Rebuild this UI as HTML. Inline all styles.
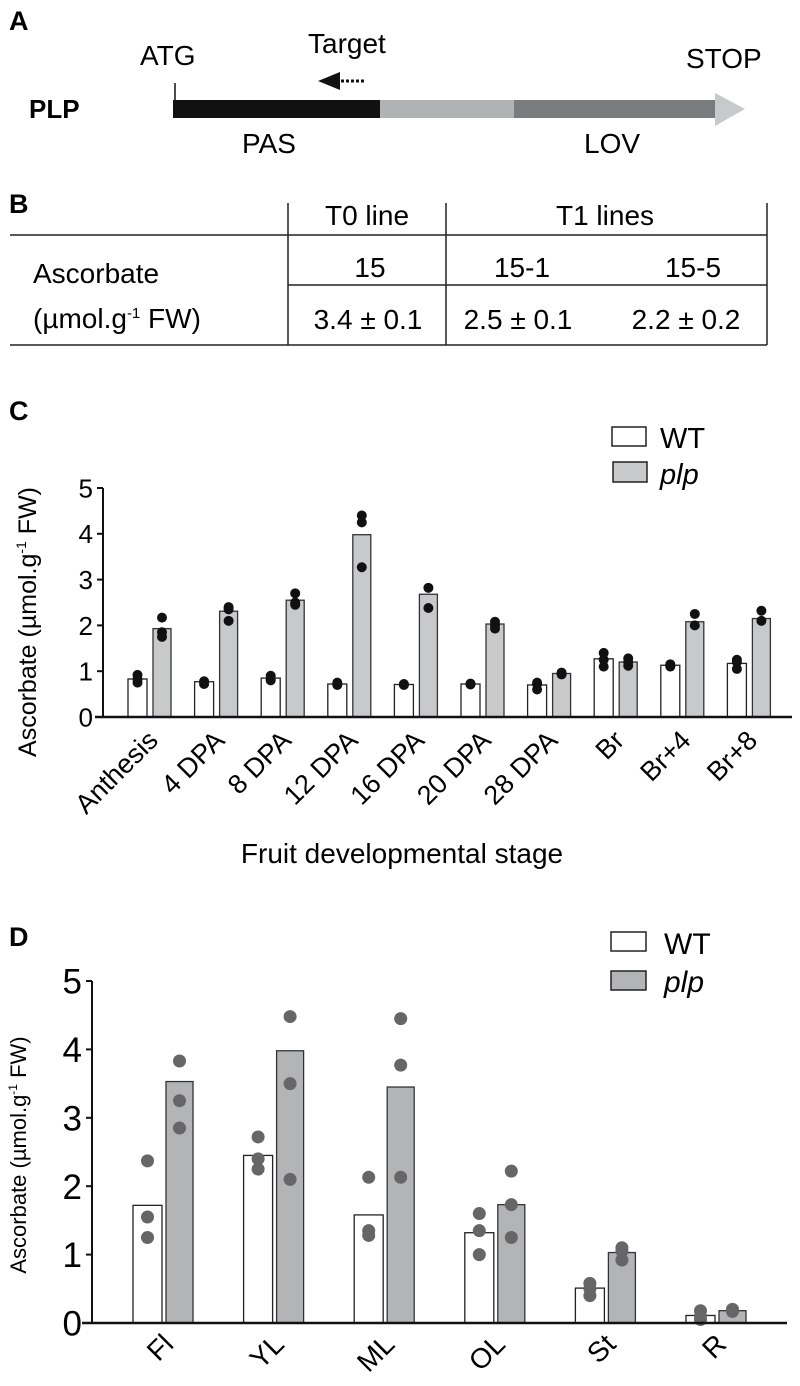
<!DOCTYPE html>
<html><head><meta charset="utf-8">
<style>
html,body{margin:0;padding:0;background:#fff;}
svg{display:block;font-family:"Liberation Sans",sans-serif;}
</style></head>
<body>
<svg id="fig" width="800" height="1386" viewBox="0 0 800 1386">
<!-- Panel A -->
<g>
  <text x="9" y="30" font-size="27" font-weight="bold">A</text>
  <text x="29" y="118" font-size="26" font-weight="bold">PLP</text>
  <text x="140" y="65" font-size="28">ATG</text>
  <text x="308" y="53" font-size="28">Target</text>
  <text x="686" y="68" font-size="28">STOP</text>
  <line x1="175" y1="83" x2="175" y2="118" stroke="#111" stroke-width="1.5"/>
  <rect x="173" y="100" width="208" height="18" fill="#111"/>
  <rect x="380" y="100" width="134" height="18" fill="#b1b2b4"/>
  <rect x="514" y="100" width="202" height="18" fill="#7a7b7d"/>
  <polygon points="715,93 745,109 715,126" fill="#c8c9ca"/>
  <polygon points="318,81 340,72 340,90" fill="#111"/>
  <line x1="341" y1="81" x2="364" y2="81" stroke="#111" stroke-width="3" stroke-dasharray="3,2"/>
  <text x="242" y="153" font-size="28">PAS</text>
  <text x="584" y="153" font-size="28">LOV</text>
</g>
<!-- Panel B -->
<g font-size="28">
  <text x="9" y="213" font-weight="bold" font-size="27">B</text>
  <line x1="288" y1="203" x2="288" y2="345" stroke="#222" stroke-width="1.5"/>
  <line x1="446" y1="203" x2="446" y2="345" stroke="#222" stroke-width="1.5"/>
  <line x1="767" y1="203" x2="767" y2="345" stroke="#222" stroke-width="1.5"/>
  <line x1="10" y1="235" x2="767" y2="235" stroke="#222" stroke-width="1.5"/>
  <line x1="288" y1="285" x2="767" y2="285" stroke="#222" stroke-width="1.5"/>
  <line x1="10" y1="345" x2="767" y2="345" stroke="#222" stroke-width="1.5"/>
  <text x="367" y="225" text-anchor="middle">T0 line</text>
  <text x="605" y="225" text-anchor="middle">T1 lines</text>
  <text x="370" y="277" text-anchor="middle">15</text>
  <text x="522" y="277" text-anchor="middle">15-1</text>
  <text x="693" y="277" text-anchor="middle">15-5</text>
  <text x="33" y="283">Ascorbate</text>
  <text x="33" y="328">(µmol.g<tspan font-size="15" dy="-10">-1</tspan><tspan dy="10"> FW)</tspan></text>
  <text x="368" y="329" text-anchor="middle">3.4 ± 0.1</text>
  <text x="518" y="329" text-anchor="middle">2.5 ± 0.1</text>
  <text x="686" y="329" text-anchor="middle">2.2 ± 0.2</text>
</g>
<g id="panelC"></g>
<g id="panelD"></g>
</svg>
<script>
const NS='http://www.w3.org/2000/svg';
// Panel C data
const cCategories=['Anthesis','4 DPA','8 DPA','12 DPA','16 DPA','20 DPA','28 DPA','Br','Br+4','Br+8'];
const cWT=[0.83,0.77,0.85,0.72,0.71,0.72,0.70,1.27,1.13,1.17];
const cPLP=[1.93,2.31,2.55,3.98,2.68,2.03,0.95,1.20,2.08,2.15];
const cWTdots=[[0.92,0.82,0.75],[0.78,0.72,0.75],[0.9,0.82,0.8],[0.75,0.7,0.72],[0.72,0.7,0.71],[0.73,0.72,0.71],[0.72,0.6,0.75],[1.4,1.25,1.1],[1.15,1.1,1.12],[1.25,1.05,1.2]];
const cPLPdots=[[2.17,1.85,1.75],[2.4,2.35,2.1],[2.7,2.5,2.45],[4.4,4.25,3.27],[2.82,2.38],[2.08,2.0,1.93],[0.97,0.93,0.95],[1.28,1.2,1.12],[2.25,2.0],[2.32,2.1]];
const cTicks=[0,1,2,3,4,5];
// Panel D data
const dCategories=['Fl','YL','ML','OL','St','R'];
const dWT=[1.72,2.45,1.58,1.32,0.51,0.11];
const dPLP=[3.53,3.98,3.45,1.73,1.03,0.18];
const dWTdots=[[2.37,1.55,1.25],[2.72,2.4,2.25],[2.13,1.35,1.28],[1.6,1.35,1.0],[0.58,0.5,0.4],[0.18,0.1,0.05]];
const dPLPdots=[[3.83,3.25,2.85],[4.48,3.5,2.1],[4.45,3.77,2.13],[2.22,1.73,1.25],[1.1,1.05,0.92],[0.2,0.18,0.17]];
const dTicks=[0,1,2,3,4,5];

function mk(tag,attrs,parent){const e=document.createElementNS(NS,tag);for(const k in attrs)e.setAttribute(k,attrs[k]);parent.appendChild(e);return e;}

function drawChart(g,cfg){
  const y=v=>cfg.y0-v*(cfg.y0-cfg.y5)/5;
  const x=i=>cfg.x0+i*cfg.step;
  const ya=mk('line',{x1:cfg.ax,y1:cfg.y5,x2:cfg.ax,y2:cfg.y0,stroke:'#111','stroke-width':2},g);
  
  
  cfg.ticks.forEach(t=>{
    const tl=mk('line',{x1:cfg.ax-6,y1:y(t),x2:cfg.ax,y2:y(t),stroke:'#111','stroke-width':2},g);
    
    
    const tx=mk('text',{x:cfg.ax-10,y:y(t)+cfg.tfs*0.36,'text-anchor':'end','font-size':cfg.tfs},g);
    tx.textContent=t;
    
    
  });
  cfg.wt.forEach((v,i)=>{
    const b=mk('rect',{x:x(i),y:y(v),width:cfg.bw,height:y(0)-y(v),fill:'#fff',stroke:'#222','stroke-width':1.3},g);
    
    
    const b2=mk('rect',{x:x(i)+cfg.off,y:y(cfg.plp[i]),width:cfg.bw2,height:y(0)-y(cfg.plp[i]),fill:cfg.plpFill,stroke:'#333','stroke-width':1.3},g);
    
    
    cfg.wtDots[i].forEach(d=>{
      const c=mk('circle',{cx:x(i)+cfg.bw/2,cy:y(d),r:cfg.r,fill:cfg.dotFill},g);
      
      
    });
    cfg.plpDots[i].forEach(d=>{
      const c=mk('circle',{cx:x(i)+cfg.off+cfg.bw2/2,cy:y(d),r:cfg.r,fill:cfg.dotFill},g);
      
      
    });
    const cx=x(i)+(cfg.off+cfg.bw2)/2;
    const lb=mk('text',{x:cx+cfg.lxo,y:cfg.ly,'text-anchor':'end','font-size':cfg.lfs,transform:'rotate(-45 '+(cx+cfg.lxo)+' '+cfg.ly+')'},g);
    lb.textContent=cfg.cats[i];
    
    
  });
  const xa=mk('line',{x1:cfg.xa1,y1:cfg.y0,x2:cfg.xa2,y2:cfg.y0,stroke:'#111','stroke-width':2.5},g);
  
  
}
const gC=document.getElementById('panelC');
drawChart(gC,{y0:717,y5:488,ax:103,x0:128,step:66.6,bw:19,bw2:18,off:25,xa1:95,xa2:792,ticks:cTicks,tfs:26,cats:cCategories,wt:cWT,plp:cPLP,wtDots:cWTdots,plpDots:cPLPdots,r:5,dotFill:'#111',plpFill:'#c8c9cb',lfs:27,ly:742,lxo:10});
const gD=document.getElementById('panelD');
drawChart(gD,{y0:1323,y5:981,ax:92,x0:133,step:110.6,bw:29,bw2:27,off:33,xa1:82,xa2:787,ticks:dTicks,tfs:35,cats:dCategories,wt:dWT,plp:dPLP,wtDots:dWTdots,plpDots:dPLPdots,r:6.5,dotFill:'#666',plpFill:'#b3b4b6',lfs:28,ly:1346,lxo:12});

function staticText(g,attrs,txt,name){const t=mk('text',attrs,g);t.innerHTML=txt;return t;}
staticText(gC,{x:9,y:420,'font-size':27,'font-weight':'bold'},'C','panel-c-label');
staticText(gC,{x:402,y:863,'font-size':28,'text-anchor':'middle'},'Fruit developmental stage','x-axis-title');
staticText(gC,{x:0,y:0,'font-size':25,'text-anchor':'middle',transform:'translate(36 622) rotate(-90)'},'Ascorbate (µmol.g<tspan font-size="14" dy="-10">-1</tspan><tspan dy="10"> FW)</tspan>','y-axis-title');
let r=mk('rect',{x:612,y:427,width:34,height:19,fill:'#fff',stroke:'#222','stroke-width':1.5},gC);


r=mk('rect',{x:613,y:462,width:34,height:20,fill:'#c8c9cb',stroke:'#222','stroke-width':1.5},gC);


staticText(gC,{x:660,y:448,'font-size':29},'WT','legend-wt-label');
staticText(gC,{x:660,y:484,'font-size':29,'font-style':'italic'},'plp','legend-plp-label');
staticText(gD,{x:9,y:946,'font-size':27,'font-weight':'bold'},'D','panel-d-label');
staticText(gD,{x:0,y:0,'font-size':22,'text-anchor':'middle',transform:'translate(26 1155) rotate(-90)'},'Ascorbate (µmol.g<tspan font-size="12" dy="-9">-1</tspan><tspan dy="9"> FW)</tspan>','y-axis-title');
r=mk('rect',{x:611,y:932,width:35,height:19,fill:'#fff',stroke:'#222','stroke-width':1.5},gD);


r=mk('rect',{x:611,y:971,width:35,height:19,fill:'#b3b4b6',stroke:'#222','stroke-width':1.5},gD);


staticText(gD,{x:664,y:954,'font-size':30},'WT','legend-wt-label');
staticText(gD,{x:664,y:992,'font-size':30,'font-style':'italic'},'plp','legend-plp-label');
</script>
</body></html>
